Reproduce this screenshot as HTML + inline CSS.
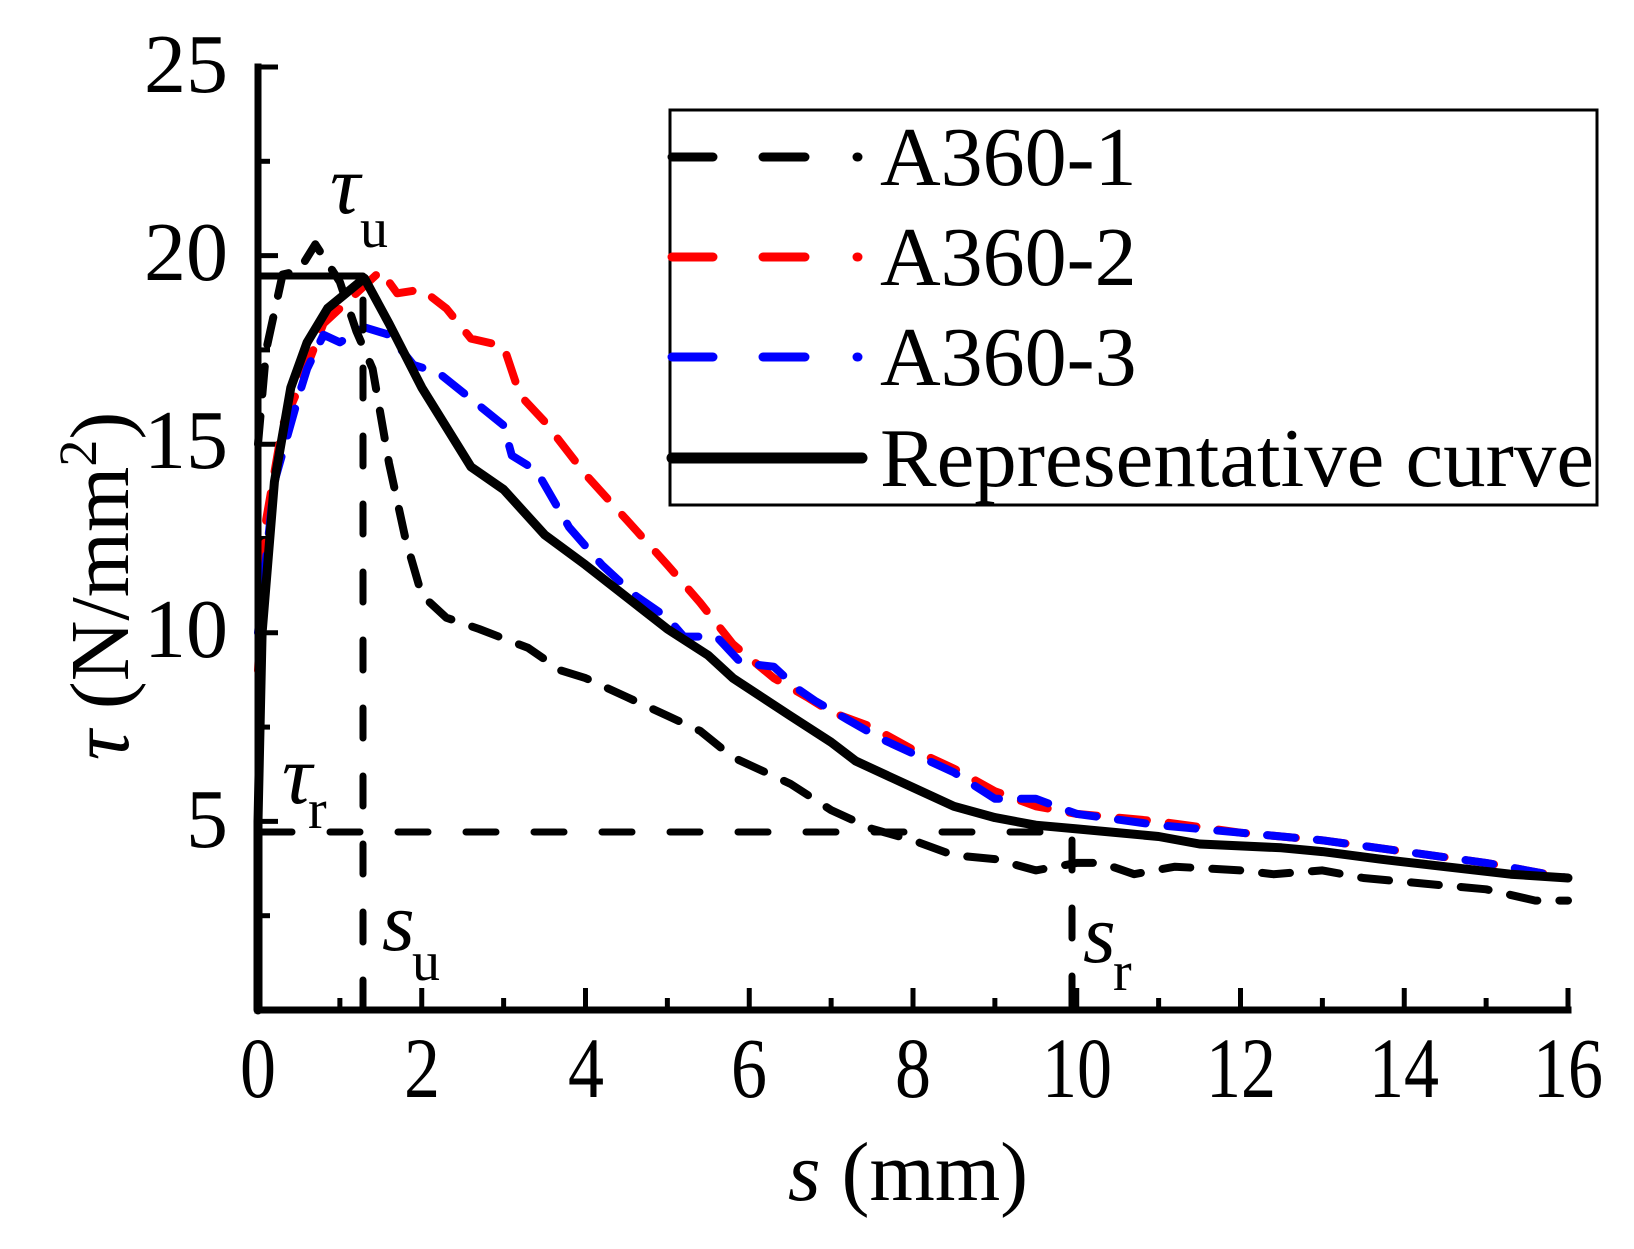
<!DOCTYPE html>
<html><head><meta charset="utf-8"><style>
html,body{margin:0;padding:0;background:#fff}
svg{display:block}
text{font-family:"Liberation Serif",serif;fill:#000}
</style></head><body>
<svg id="c" width="1634" height="1249" viewBox="0 0 1634 1249" xmlns="http://www.w3.org/2000/svg">
<g font-size="84">
<text x="228" y="92" text-anchor="end">25</text>
<text x="228" y="280" text-anchor="end">20</text>
<text x="228" y="468" text-anchor="end">15</text>
<text x="228" y="657" text-anchor="end">10</text>
<text x="228" y="847" text-anchor="end">5</text>
</g>
<g font-size="86" text-anchor="middle" lengthAdjust="spacingAndGlyphs">
<text x="258" y="1097" textLength="36" lengthAdjust="spacingAndGlyphs">0</text><text x="422" y="1097" textLength="36" lengthAdjust="spacingAndGlyphs">2</text><text x="586" y="1097" textLength="36" lengthAdjust="spacingAndGlyphs">4</text>
<text x="749" y="1097" textLength="36" lengthAdjust="spacingAndGlyphs">6</text><text x="913" y="1097" textLength="36" lengthAdjust="spacingAndGlyphs">8</text><text x="1077" y="1097" textLength="70" lengthAdjust="spacingAndGlyphs">10</text>
<text x="1241" y="1097" textLength="70" lengthAdjust="spacingAndGlyphs">12</text><text x="1404" y="1097" textLength="70" lengthAdjust="spacingAndGlyphs">14</text><text x="1568" y="1097" textLength="70" lengthAdjust="spacingAndGlyphs">16</text>
</g>
<text x="908" y="1200" font-size="84" text-anchor="middle"><tspan font-style="italic">s</tspan> (mm)</text>
<text transform="translate(128,586) rotate(-90)" font-size="84" text-anchor="middle"><tspan font-style="italic">τ</tspan> (N/mm<tspan font-size="54" dy="-32">2</tspan><tspan dy="32">)</tspan></text>
<g id="ticks" stroke="#000" stroke-width="5"></g>
<g id="series"></g>
<g stroke="#000" stroke-width="7" stroke-linecap="round" fill="none">
<line x1="258" y1="276" x2="363" y2="276"/>
<line x1="363" y1="300" x2="363" y2="1010" stroke-dasharray="30 38"/>
<line x1="262" y1="832" x2="1072" y2="832" stroke-dasharray="30 38"/>
<line x1="1072" y1="840" x2="1072" y2="1010" stroke-dasharray="30 38"/>
</g>
<g font-size="84">
<text x="330" y="213" font-style="italic">τ</text><text x="360" y="247" font-size="56">u</text>
<text x="282" y="803" font-style="italic">τ</text><text x="308" y="828" font-size="56">r</text>
<text x="382" y="950" font-style="italic">s</text><text x="412" y="980" font-size="56">u</text>
<text x="1083" y="962" font-style="italic">s</text><text x="1113" y="990" font-size="56">r</text>
</g>
<rect x="670" y="110" width="927" height="395" fill="none" stroke="#000" stroke-width="3"/>
<g stroke-width="9" stroke-linecap="round">
<g stroke="#000"><line x1="672" y1="157" x2="713" y2="157"/><line x1="763" y1="157" x2="805" y2="157"/><line x1="857" y1="157" x2="858" y2="157"/></g>
<g stroke="#f00"><line x1="672" y1="257" x2="713" y2="257"/><line x1="763" y1="257" x2="805" y2="257"/><line x1="857" y1="257" x2="858" y2="257"/></g>
<g stroke="#00f"><line x1="672" y1="357" x2="713" y2="357"/><line x1="763" y1="357" x2="805" y2="357"/><line x1="857" y1="357" x2="858" y2="357"/></g>
<line x1="672" y1="458" x2="862" y2="458" stroke="#000" stroke-width="11"/>
</g>
<g font-size="84">
<text x="880" y="185">A360-1</text>
<text x="880" y="285">A360-2</text>
<text x="880" y="385">A360-3</text>
<text x="880" y="486" textLength="714" lengthAdjust="spacingAndGlyphs">Representative curve</text>
</g>
<g stroke="#000" stroke-width="7" fill="none" stroke-linecap="square">
<polyline points="258,67 258,1010 1568,1010"/>
</g>
</svg>
<script>
const X=s=>258+81.875*s, Y=v=>1010-37.72*v;
const NS="http://www.w3.org/2000/svg";
const t=document.getElementById('ticks');
function ln(g,a,b,c,d){const l=document.createElementNS(NS,'line');l.setAttribute('x1',a);l.setAttribute('y1',b);l.setAttribute('x2',c);l.setAttribute('y2',d);g.appendChild(l);}
for(let i=0;i<=10;i++){const y=Y(i*2.5);ln(t,258,y,i%2==0?278:270,y);}
for(let i=0;i<=16;i++){const x=X(i);ln(t,x,1010,x,i%2==0?988:998);}
const sp=document.getElementById('series');
function pl(pts,col,w,dash){const p=document.createElementNS(NS,'polyline');p.setAttribute('points',pts.map(q=>X(q[0]).toFixed(1)+','+Y(q[1]).toFixed(1)).join(' '));p.setAttribute('fill','none');p.setAttribute('stroke',col);p.setAttribute('stroke-width',w);p.setAttribute('stroke-linecap','round');p.setAttribute('stroke-linejoin','round');if(dash)p.setAttribute('stroke-dasharray',dash);sp.appendChild(p);}
pl([[0,9],[0.1,13],[0.3,15.5],[0.5,16.5],[0.8,18.2],[1.2,19],[1.5,19.6],[1.7,19.0],[2.0,19.1],[2.3,18.6],[2.6,17.8],[3,17.6],[3.2,16.3],[3.5,15.6],[4,14.2],[4.5,13],[5,11.8],[5.4,10.8],[5.8,9.7],[6.3,8.8],[6.7,8.3],[7,7.9],[7.5,7.5],[8,6.9],[8.5,6.4],[9,5.8],[9.5,5.4],[10,5.2],[11,5.0],[12,4.7],[13,4.5],[14,4.2],[15,3.9],[16,3.5]],'#f00',8,'28 22');
pl([[0,10],[0.2,14],[0.5,16.3],[0.6,17.0],[0.8,17.9],[1.0,17.7],[1.3,18.1],[1.6,17.9],[1.9,17.1],[2.2,16.9],[2.6,16.2],[3,15.5],[3.1,14.7],[3.4,14.3],[3.8,12.8],[4.2,11.8],[4.6,11],[5.0,10.4],[5.2,9.9],[5.6,9.9],[5.9,9.2],[6.3,9.1],[6.6,8.5],[6.8,8.2],[7.2,7.7],[7.6,7.2],[8,6.8],[8.5,6.3],[9,5.6],[9.5,5.6],[10,5.2],[11,4.9],[12,4.7],[13,4.5],[14,4.2],[15,3.9],[16,3.5]],'#00f',8,'28 22');
pl([[0,15],[0.1,17.5],[0.3,19.5],[0.5,19.6],[0.7,20.3],[1.0,19.3],[1.2,18.0],[1.4,17],[1.6,14.5],[1.8,12.5],[2.0,11],[2.3,10.4],[2.7,10.1],[3.3,9.6],[3.7,9],[4,8.8],[4.5,8.3],[5,7.8],[5.4,7.4],[5.8,6.7],[6.5,6.0],[7,5.3],[7.5,4.8],[8,4.5],[8.5,4.1],[9,4.0],[9.5,3.7],[10,3.9],[10.3,3.9],[10.7,3.6],[11.2,3.8],[12,3.7],[12.4,3.6],[13,3.7],[13.5,3.5],[14,3.4],[15,3.2],[15.6,2.9],[16,2.9]],'#000',8,'28 22');
pl([[0,0],[0,5],[0.05,10],[0.2,14],[0.4,16.5],[0.6,17.7],[0.85,18.6],[1.3,19.4],[1.6,18.2],[2.0,16.5],[2.6,14.4],[3,13.8],[3.5,12.6],[4,11.8],[5,10.1],[5.5,9.4],[5.8,8.8],[6.5,7.8],[7,7.1],[7.3,6.6],[8,5.9],[8.5,5.4],[9,5.1],[9.5,4.9],[10,4.8],[11,4.6],[11.5,4.4],[12.5,4.3],[13,4.2],[13.7,4.0],[14.5,3.8],[15.3,3.6],[16,3.5]],'#000',9,null);
</script>
</body></html>
